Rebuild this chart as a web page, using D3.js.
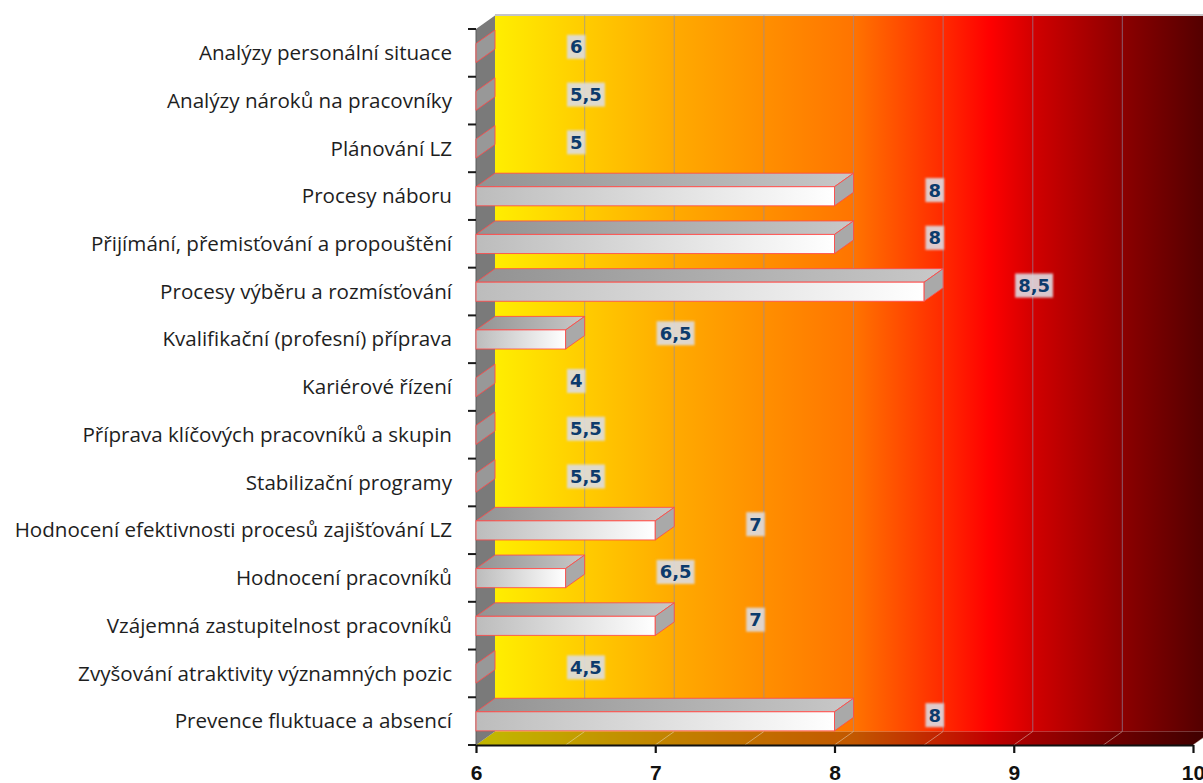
<!DOCTYPE html>
<html>
<head>
<meta charset="utf-8">
<script src="https://cdn.jsdelivr.net/npm/d3@7"></script>
<style>
  body { margin: 0; background: #ffffff; }
  svg { display: block; }
</style>
</head>
<body>
<svg id="chart" width="1203" height="783"></svg>
<script>
// Activities and their scores
const categories = [
  "Analýzy personální situace",
  "Analýzy nároků na pracovníky",
  "Plánování LZ",
  "Procesy náboru",
  "Přijímání, přemisťování a propouštění",
  "Procesy výběru a rozmísťování",
  "Kvalifikační (profesní) příprava",
  "Kariérové řízení",
  "Příprava klíčových pracovníků a skupin",
  "Stabilizační programy",
  "Hodnocení efektivnosti procesů zajišťování LZ",
  "Hodnocení pracovníků",
  "Vzájemná zastupitelnost pracovníků",
  "Zvyšování atraktivity významných pozic",
  "Prevence fluktuace a absencí"
];
const values = [6, 5.5, 5, 8, 8, 8.5, 6.5, 4, 5.5, 5.5, 7, 6.5, 7, 4.5, 8];
const xTicks = [6, 7, 8, 9, 10];
const gridValues = [6.5, 7, 7.5, 8, 8.5, 9, 9.5, 10];

const svg = d3.select("#chart");
const defs = svg.append("defs");

const x = d3.scaleLinear().domain([6, 10]).range([476, 1193]);
const y = d3.scaleBand().domain(categories).range([29, 745]);
const DX = 19, DY = 13.5;          // depth offset of the 3D box
const xMin = x.domain()[0];
const plotTop = y.range()[0], plotBottom = y.range()[1];
const fmt = v => String(v).replace(".", ",");

// Back wall colour ramp
const wallGrad = defs.append("linearGradient").attr("id", "wallGrad")
  .attr("gradientUnits", "userSpaceOnUse")
  .attr("x1", x(6) + DX).attr("x2", x(10) + DX).attr("y1", 0).attr("y2", 0);
[[0, "#ffee00"], [0.125, "#ffcc00"], [0.25, "#ffaa00"], [0.5, "#ff7400"],
 [0.625, "#ff2a00"], [0.69, "#ff0000"], [0.75, "#d20000"], [0.875, "#8c0000"], [1, "#4e0000"]]
  .forEach(([o, c]) => wallGrad.append("stop").attr("offset", o).attr("stop-color", c));

const frontGrad = defs.append("linearGradient").attr("id", "barFront");
frontGrad.append("stop").attr("offset", 0).attr("stop-color", "#bcbcbc");
frontGrad.append("stop").attr("offset", 1).attr("stop-color", "#ffffff");
const topGrad = defs.append("linearGradient").attr("id", "barTop");
topGrad.append("stop").attr("offset", 0).attr("stop-color", "#929292");
topGrad.append("stop").attr("offset", 1).attr("stop-color", "#c8c8c8");

const soft = defs.append("filter").attr("id", "soft")
  .attr("x", "-20%").attr("y", "-20%").attr("width", "140%").attr("height", "140%");
soft.append("feGaussianBlur").attr("stdDeviation", 1.1);

// Back wall
svg.append("rect")
  .attr("x", x(6) + DX).attr("y", plotTop - DY)
  .attr("width", x(10) - x(6)).attr("height", plotBottom - plotTop)
  .attr("fill", "url(#wallGrad)");
svg.append("line")
  .attr("x1", x(6) + DX).attr("x2", x(10) + DX)
  .attr("y1", plotTop - DY - 0.5).attr("y2", plotTop - DY - 0.5)
  .attr("stroke", "#c4c4c8").attr("stroke-width", 2);

// Wall grid lines
svg.append("g").selectAll("line").data(gridValues).join("line")
  .attr("x1", d => x(d) + DX).attr("x2", d => x(d) + DX)
  .attr("y1", plotTop - DY).attr("y2", plotBottom - DY)
  .attr("stroke", "#8c8ca8").attr("stroke-opacity", 0.55).attr("stroke-width", 1.2);

// Floor
const floorPts = [[x(6), plotBottom], [x(6) + DX, plotBottom - DY], [x(10) + DX, plotBottom - DY], [x(10), plotBottom]];
svg.append("polygon").attr("points", floorPts.join(" ")).attr("fill", "url(#wallGrad)");
svg.append("polygon").attr("points", floorPts.join(" ")).attr("fill", "#000").attr("fill-opacity", 0.24);
svg.append("g").selectAll("line").data(gridValues).join("line")
  .attr("x1", d => x(d)).attr("x2", d => x(d) + DX)
  .attr("y1", plotBottom).attr("y2", plotBottom - DY)
  .attr("stroke", "#eeeedd").attr("stroke-opacity", 0.45).attr("stroke-width", 1);

// Left side wall
svg.append("polygon")
  .attr("points", [[x(6), plotTop], [x(6) + DX, plotTop - DY], [x(6) + DX, plotBottom - DY], [x(6), plotBottom]].join(" "))
  .attr("fill", "#7a7a7a");
svg.append("line")
  .attr("x1", x(6)).attr("x2", x(6)).attr("y1", plotTop).attr("y2", plotBottom)
  .attr("stroke", "#5a5a5a").attr("stroke-width", 1);

// Bars
const bandH = y.bandwidth();
const barOff = bandH * 0.304, barH = bandH * 0.4;
const bars = svg.append("g").selectAll("g").data(categories).join("g");
bars.each(function (c, i) {
  const g = d3.select(this);
  const v = Math.max(values[i], xMin);
  const x0 = x(xMin), x1 = x(v);
  const yT = y(c) + barOff;
  const edge = "#ff4a4a";
  if (x1 > x0) {
    g.append("polygon")
      .attr("points", [[x0, yT], [x0 + DX, yT - DY], [x1 + DX, yT - DY], [x1, yT]].join(" "))
      .attr("fill", "url(#barTop)").attr("stroke", edge)
      .attr("stroke-width", 1).attr("stroke-opacity", 0.85);
    g.append("rect")
      .attr("x", x0).attr("y", yT).attr("width", x1 - x0).attr("height", barH)
      .attr("fill", "url(#barFront)").attr("stroke", edge)
      .attr("stroke-width", 1).attr("stroke-opacity", 0.85);
  }
  g.append("polygon")
    .attr("points", [[x1, yT], [x1 + DX, yT - DY], [x1 + DX, yT - DY + barH], [x1, yT + barH]].join(" "))
    .attr("fill", x1 > x0 ? "#a9a9a9" : "#989898").attr("stroke", edge)
    .attr("stroke-width", 1).attr("stroke-opacity", 0.85);
});

// Category separators on the vertical axis
svg.append("g").selectAll("line")
  .data(d3.range(categories.length + 1))
  .join("line")
  .attr("x1", x(6) - 8).attr("x2", x(6))
  .attr("y1", i => plotTop + i * bandH).attr("y2", i => plotTop + i * bandH)
  .attr("stroke", "#1a1a1a").attr("stroke-width", 2);

// Category labels
svg.append("g").selectAll("text").data(categories).join("text")
  .attr("x", 452).attr("y", c => y(c) + bandH / 2)
  .attr("dy", "0.35em").attr("text-anchor", "end")
  .attr("font-family", "'Open Sans', Lato, sans-serif").attr("font-size", 20.6)
  .attr("fill", "#1e1e1e")
  .text(c => c);

// Horizontal axis
const xAxis = svg.append("g")
  .attr("transform", `translate(0,${plotBottom})`)
  .call(d3.axisBottom(x).tickValues(xTicks).tickSize(8).tickSizeOuter(0).tickPadding(12)
    .tickFormat(d3.format("d")));
xAxis.select(".domain").attr("stroke", "#111").attr("stroke-width", 2.2);
xAxis.selectAll(".tick line").attr("stroke", "#111").attr("stroke-width", 2.2);
xAxis.selectAll(".tick text")
  .attr("font-family", "'Liberation Sans', Arial, sans-serif")
  .attr("font-weight", "bold").attr("font-size", 21).attr("fill", "#111");

// Value labels
const labels = svg.append("g").selectAll("g").data(categories).join("g");
labels.each(function (c, i) {
  const g = d3.select(this);
  const v = Math.max(values[i], xMin);
  const lx = x(v) + DX + 75;
  const ly = y(c) + bandH / 2 - 6;
  const bg = g.append("rect");
  const t = g.append("text")
    .attr("x", lx).attr("y", ly).attr("dy", "0.36em")
    .attr("font-family", "'DejaVu Sans', Verdana, sans-serif")
    .attr("font-weight", "bold").attr("font-size", 18)
    .attr("fill", "#0c3b6c")
    .text(fmt(values[i]));
  const b = t.node().getBBox();
  bg.attr("x", b.x - 3).attr("y", ly - 12).attr("width", b.width + 6).attr("height", 24)
    .attr("fill", "#dcdce2").attr("fill-opacity", 0.9).attr("filter", "url(#soft)");
});
</script>
</body>
</html>
